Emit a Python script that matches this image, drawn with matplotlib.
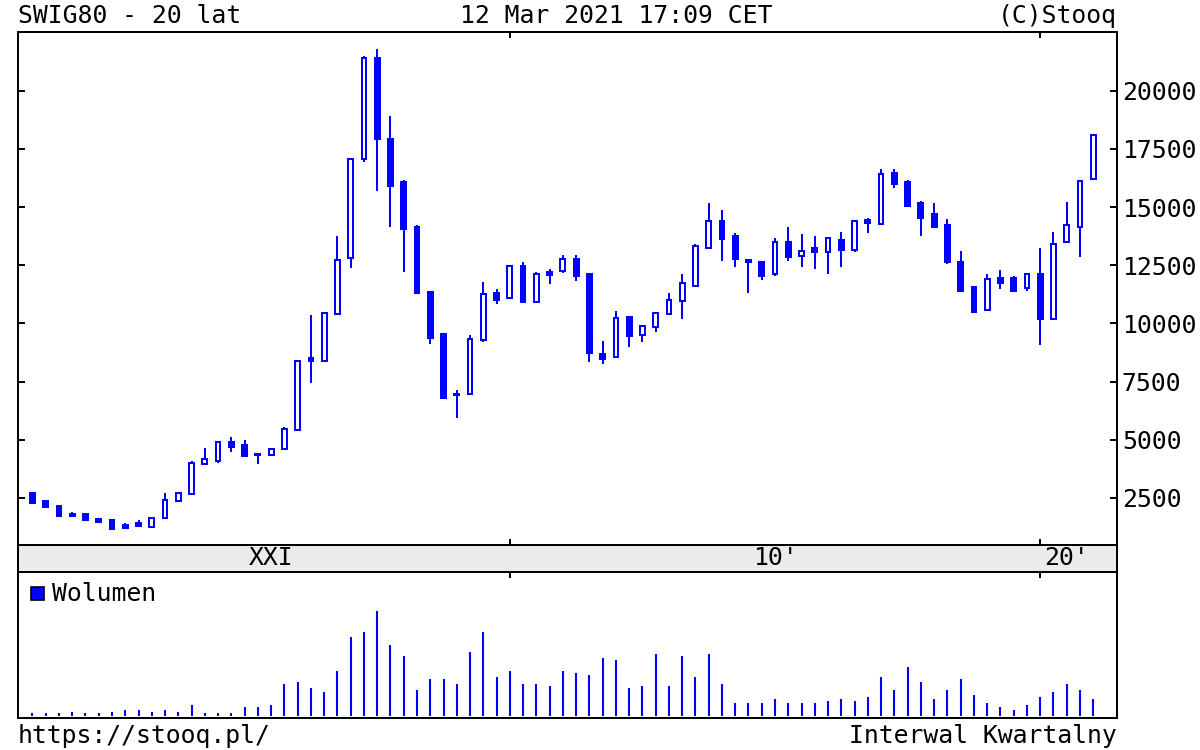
"""Stooq-style quarterly candlestick chart of SWIG80 with volume panel."""
import matplotlib

matplotlib.use("Agg")
import matplotlib.pyplot as plt
from matplotlib.patches import Rectangle
from matplotlib.transforms import blended_transform_factory

BLUE = "#0000ff"
BAND = "#ebebeb"
FONT = "DejaVu Sans Mono"
FS = 17.8
LW = 1.44  # 2 px at 100 dpi

# quarterly candles, Q1 2001 .. Q1 2021
opens = [2710, 2360, 2160, 1800, 1820, 1610, 1540, 1340, 1440, 1270,
         1660, 2390, 2680, 3960, 4110, 4920, 4770, 4380, 4340, 4620,
         5420, 8510, 8400, 10410, 12800, 17050, 21390, 17920, 16080, 14130,
         11370, 9530, 6920, 6980, 9290, 11300, 11080, 12480, 10930, 12220,
         12270, 12770, 12110, 8700, 8560, 10265, 9500, 9860, 10410, 10965,
         11620, 13260, 14400, 13760, 12730, 12650, 12110, 13490, 12910, 13230,
         13070, 13590, 13160, 14440, 14270, 16480, 16090, 15160, 14690, 14230,
         12650, 11550, 10580, 11940, 11940, 11510, 12110, 10190, 13510, 14160,
         16190]
highs = [2750, 2370, 2170, 1910, 1830, 1620, 1550, 1440, 1560, 1660,
         2730, 2710, 4080, 4630, 4950, 5140, 5010, 4400, 4630, 5570,
         8420, 10370, 10450, 13760, 17080, 21500, 21780, 18910, 16170, 14230,
         11380, 9580, 7140, 9510, 11770, 11470, 12480, 12650, 12200, 12330,
         12940, 12940, 12120, 9260, 10550, 10280, 9920, 10450, 11300, 12110,
         13400, 15160, 14870, 13870, 12750, 12680, 13670, 14130, 13840, 13760,
         13680, 13940, 14420, 14520, 16620, 16620, 16160, 15260, 15160, 14500,
         13110, 11560, 12110, 12300, 12040, 12110, 13230, 13940, 15230, 16130,
         18080]
lows = [2270, 2100, 1730, 1730, 1540, 1460, 1170, 1180, 1270, 1260,
        1650, 2380, 2660, 3950, 4020, 4490, 4300, 3960, 4330, 4610,
        5410, 7460, 8390, 10400, 12400, 16920, 15700, 14160, 12230, 11280,
        9120, 6810, 5950, 6970, 9190, 10840, 11060, 10930, 10920, 11680,
        12150, 11840, 8360, 8260, 8550, 9000, 9190, 9650, 10400, 10190,
        11600, 13250, 12690, 12410, 11300, 11870, 12050, 12690, 12410, 12330,
        12120, 12410, 13060, 13900, 14260, 15810, 14990, 13770, 14150, 12570,
        11380, 10460, 10570, 11480, 11380, 11410, 9075, 10180, 13500, 12870,
        16180]
closes = [2280, 2100, 1730, 1740, 1550, 1460, 1180, 1190, 1290, 1650,
          2430, 2700, 3990, 4160, 4910, 4680, 4320, 4360, 4620, 5450,
          8400, 8400, 10440, 12730, 17070, 21390, 17920, 15900, 14060, 11300,
          9390, 6810, 6960, 9345, 11270, 11010, 12460, 10930, 12110, 12100,
          12760, 12050, 8740, 8450, 10250, 9480, 9900, 10440, 10995, 11720,
          13315, 14400, 13630, 12770, 12640, 12040, 13490, 12870, 13110, 13080,
          13660, 13160, 14400, 14310, 16420, 15990, 15050, 14520, 14160, 12630,
          11390, 10510, 11910, 11750, 11390, 12110, 10190, 13400, 14210, 16130,
          18080]
volume = [8, 8, 8, 13, 8, 8, 13, 19, 19, 13,
          19, 13, 32, 8, 8, 8, 26, 26, 32, 96,
          103, 84, 71, 135, 238, 251, 315, 212, 180, 77,
          110, 110, 97, 193, 251, 116, 135, 97, 97, 90,
          135, 129, 122, 174, 167, 84, 90, 187, 90, 180,
          116, 187, 97, 39, 39, 39, 52, 39, 39, 39,
          45, 52, 45, 58, 116, 77, 148, 103, 52, 77,
          110, 64, 39, 26, 19, 32, 58, 71, 97, 77,
          52]

y_ticks = [2500, 5000, 7500, 10000, 12500, 15000, 17500, 20000]
period_ticks = [36, 76]  # Q1 2010, Q1 2020
period_labels = ["XXI", "10'", "20'"]
period_centers = [18, 56, 78]

plt.rcParams["font.family"] = FONT
plt.rcParams["font.size"] = FS

fig = plt.figure(figsize=(12, 7.5), dpi=100)
ax = fig.add_axes([0.015, 0.27333, 0.91583, 0.684])
ax_band = fig.add_axes([0.015, 0.23733, 0.91583, 0.036], sharex=ax)
ax_vol = fig.add_axes([0.015, 0.04267, 0.91583, 0.19467], sharex=ax)

xs = list(range(len(opens)))

# candles
ax.vlines(xs, lows, highs, color=BLUE, linewidth=LW, zorder=2)
heights = [c - o for o, c in zip(opens, closes)]
faces = ["white" if c >= o else BLUE for o, c in zip(opens, closes)]
ax.bar(xs, heights, bottom=opens, width=0.36, color=faces,
       edgecolor=BLUE, linewidth=LW, zorder=3)

ax.set_xlim(-1.09, 81.79)
ax.set_ylim(480, 22520)
ax.set_yticks(y_ticks)
ax.set_yticklabels([str(v) for v in y_ticks])
ax.tick_params(axis="y", direction="in", length=5, width=LW,
               left=True, right=True, labelleft=False, labelright=True, pad=3.5)
ax.set_xticks(period_ticks)
ax.tick_params(axis="x", direction="in", length=4.5, width=LW,
               top=True, bottom=True, labelbottom=False)

# period band
ax_band.set_facecolor(BAND)
ax_band.set_yticks([])
ax_band.tick_params(axis="x", length=0, labelbottom=False)
tr = blended_transform_factory(ax_band.transData, ax_band.transAxes)
for xc, lab in zip(period_centers, period_labels):
    ax_band.text(xc, 0.52, lab, transform=tr, ha="center", va="center")

# volume
ax_vol.vlines(xs, 0, volume, color=BLUE, linewidth=1.5)
ax_vol.set_ylim(-6, 432)
ax_vol.set_yticks([])
ax_vol.tick_params(axis="x", direction="in", length=4.5, width=LW,
                   top=True, bottom=False, labelbottom=False)
ax_vol.add_patch(Rectangle((0.0115, 0.805), 0.0118, 0.092, transform=ax_vol.transAxes,
                           facecolor=BLUE, edgecolor="black", linewidth=1.2))
ax_vol.text(0.0313, 0.85, "Wolumen", transform=ax_vol.transAxes,
            ha="left", va="center")

for a in (ax, ax_band, ax_vol):
    for s in a.spines.values():
        s.set_linewidth(LW)

# header / footer
fig.text(18 / 1200, 1 - 16 / 750, "SWIG80 - 20 lat", ha="left", va="center")
fig.text(616 / 1200, 1 - 16 / 750, "12 Mar 2021 17:09 CET", ha="center", va="center")
fig.text(1117 / 1200, 1 - 16 / 750, "(C)Stooq", ha="right", va="center")
fig.text(18 / 1200, 1 - 736 / 750, "https://stooq.pl/", ha="left", va="center")
fig.text(1117 / 1200, 1 - 736 / 750, "Interwal Kwartalny", ha="right", va="center")

fig.savefig("out.png", dpi=100)
